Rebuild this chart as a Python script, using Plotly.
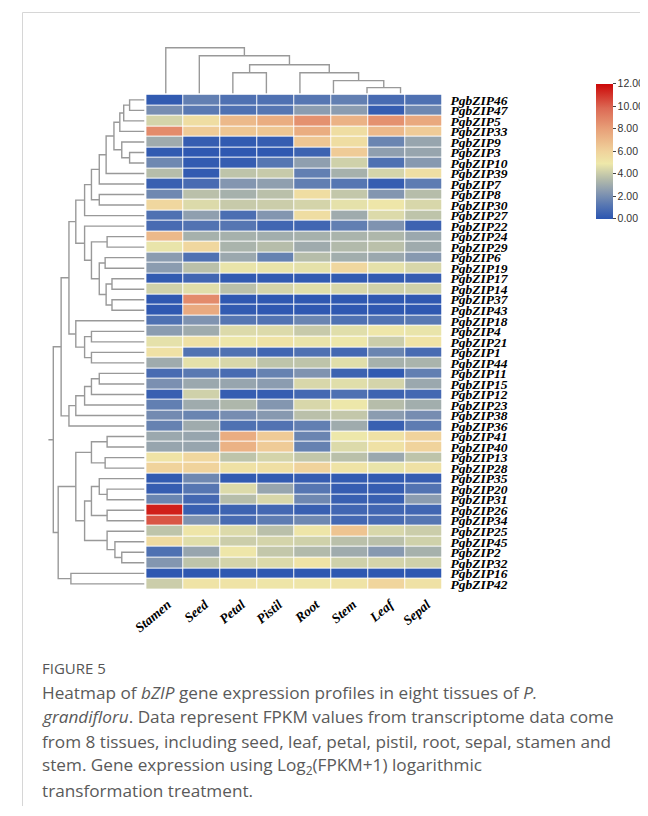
import plotly.graph_objects as go

# The page body has an 8px margin, so the figure is drawn 8px right/down.
OFF = 8
W, H = 648 - OFF, 816 - OFF

def fx(x):
    return (x - OFF) / W

def fy(y):
    return 1 - (y - OFF) / H

# ---------------- data ----------------
genes = ["PgbZIP46", "PgbZIP47", "PgbZIP5", "PgbZIP33", "PgbZIP9", "PgbZIP3", "PgbZIP10", "PgbZIP39",
         "PgbZIP7", "PgbZIP8", "PgbZIP30", "PgbZIP27", "PgbZIP22", "PgbZIP24", "PgbZIP29", "PgbZIP6",
         "PgbZIP19", "PgbZIP17", "PgbZIP14", "PgbZIP37", "PgbZIP43", "PgbZIP18", "PgbZIP4", "PgbZIP21",
         "PgbZIP1", "PgbZIP44", "PgbZIP11", "PgbZIP15", "PgbZIP12", "PgbZIP23", "PgbZIP38", "PgbZIP36",
         "PgbZIP41", "PgbZIP40", "PgbZIP13", "PgbZIP28", "PgbZIP35", "PgbZIP20", "PgbZIP31", "PgbZIP26",
         "PgbZIP34", "PgbZIP25", "PgbZIP45", "PgbZIP2", "PgbZIP32", "PgbZIP16", "PgbZIP42"]

tissues = ["Stamen", "Seed", "Petal", "Pistil", "Root", "Stem", "Leaf", "Sepal"]

stamen = [0.2, 2.0, 4.3, 8.7, 3.0, 0.2, 1.8, 3.6, 0.4, 1.8, 5.8, 1.0, 0.8, 7.0, 4.8, 2.5,
          2.5, 0.2, 4.2, 0.1, 0.1, 1.0, 2.5, 4.7, 5.3, 3.0, 0.8, 2.1, 0.4, 1.5, 1.9, 1.6,
          2.9, 2.8, 5.2, 6.0, 0.2, 0.3, 1.7, 11.5, 10.3, 3.8, 5.6, 1.0, 2.3, 0.1, 4.1]
seed = [1.5, 1.3, 5.5, 6.3, 0.3, 0.1, 0.2, 0.2, 0.8, 3.7, 4.5, 2.6, 1.1, 3.2, 5.8, 1.0,
        3.7, 0.6, 4.6, 8.7, 7.6, 2.2, 3.0, 5.3, 1.1, 4.7, 1.3, 2.9, 4.2, 3.0, 1.7, 3.0,
        2.8, 2.8, 5.8, 6.0, 1.8, 1.2, 0.7, 0.4, 2.2, 5.1, 4.6, 2.8, 3.8, 0.1, 5.2]
petal = [1.0, 1.0, 7.0, 6.5, 0.2, 0.1, 0.3, 3.8, 2.3, 3.2, 4.0, 0.9, 1.2, 3.2, 3.3, 2.9,
         4.8, 0.2, 3.7, 0.1, 0.2, 1.2, 4.5, 4.9, 1.0, 4.4, 0.8, 2.8, 0.3, 3.4, 2.0, 1.0,
         7.5, 7.3, 3.8, 5.3, 0.2, 4.5, 3.6, 0.5, 0.8, 4.5, 4.1, 5.0, 4.3, 0.1, 5.2]
pistil = [1.0, 1.2, 7.5, 6.5, 0.3, 0.1, 1.2, 4.0, 2.6, 3.7, 4.1, 2.3, 0.6, 3.1, 3.6, 1.6,
          4.8, 0.2, 4.3, 0.1, 0.1, 1.1, 4.5, 5.2, 0.6, 3.8, 1.6, 2.5, 0.3, 2.3, 2.4, 1.1,
          6.3, 6.3, 4.3, 5.4, 0.2, 2.8, 4.4, 0.7, 1.4, 3.7, 4.3, 3.9, 4.5, 0.1, 5.1]
root = [1.2, 2.5, 8.5, 7.5, 6.5, 0.5, 2.6, 1.5, 1.5, 5.5, 4.3, 5.5, 0.6, 3.2, 3.0, 3.6,
        4.7, 0.2, 4.6, 0.1, 0.1, 1.7, 4.0, 4.8, 1.0, 3.8, 2.2, 4.4, 0.7, 4.4, 3.7, 1.5,
        1.7, 1.6, 3.9, 6.0, 0.3, 1.2, 1.8, 0.4, 1.8, 5.1, 4.2, 3.5, 5.2, 0.1, 5.1]
stem = [1.5, 2.5, 7.3, 5.5, 5.5, 6.3, 4.2, 3.2, 1.2, 3.9, 4.7, 3.0, 1.5, 3.3, 3.5, 3.1,
        5.8, 0.2, 4.4, 0.1, 0.1, 1.0, 4.6, 4.9, 0.7, 4.6, 0.5, 4.6, 1.0, 4.9, 3.9, 3.0,
        4.9, 4.5, 3.7, 5.2, 0.2, 0.3, 0.4, 0.6, 0.7, 6.6, 3.7, 3.0, 4.2, 0.1, 5.2]
leaf = [0.8, 0.3, 8.5, 7.0, 1.7, 2.6, 1.0, 4.3, 0.3, 2.3, 5.0, 4.5, 2.2, 3.4, 3.7, 2.9,
        4.7, 0.2, 4.2, 0.1, 0.1, 1.1, 5.0, 4.1, 1.7, 3.2, 0.2, 4.3, 0.5, 3.6, 2.5, 0.4,
        5.3, 5.3, 2.9, 4.8, 0.2, 0.3, 0.4, 0.6, 0.8, 4.4, 3.7, 2.4, 4.3, 0.1, 5.9]
sepal = [1.0, 1.8, 7.7, 6.3, 2.8, 2.8, 2.4, 5.4, 1.4, 3.6, 4.4, 3.8, 0.5, 2.9, 3.0, 2.4,
         4.4, 0.3, 4.2, 0.1, 0.1, 1.3, 4.8, 5.2, 0.8, 3.3, 1.5, 2.9, 0.7, 3.1, 2.0, 1.4,
         6.0, 6.0, 3.8, 5.3, 0.3, 1.1, 2.5, 0.6, 1.2, 4.1, 4.2, 3.2, 4.2, 0.1, 5.3]

colorbar_ticks = [0, 2, 4, 6, 8, 10, 12]

# hierarchical clustering (merge: left, right, distance)
row_merges = [
    ("PgbZIP46", "PgbZIP47", 15), (0, "PgbZIP5", 21), (1, "PgbZIP33", 25),
    ("PgbZIP3", "PgbZIP10", 15), ("PgbZIP9", 3, 23), (2, 4, 31), (5, "PgbZIP39", 39),
    (6, "PgbZIP7", 46), ("PgbZIP8", "PgbZIP30", 46), (7, 8, 54), (9, "PgbZIP27", 61),
    ("PgbZIP24", "PgbZIP29", 38), ("PgbZIP6", "PgbZIP19", 40), ("PgbZIP17", "PgbZIP14", 33),
    ("PgbZIP37", "PgbZIP43", 33), (13, 14, 39), (12, 15, 46), (11, 16, 54),
    ("PgbZIP22", 17, 61), (10, 18, 70), ("PgbZIP4", "PgbZIP21", 54), ("PgbZIP1", "PgbZIP44", 54),
    (20, 21, 61), ("PgbZIP18", 22, 70), (19, 23, 77), ("PgbZIP11", "PgbZIP15", 46),
    (25, "PgbZIP12", 54), (26, "PgbZIP23", 61), (27, "PgbZIP38", 70), (28, "PgbZIP36", 77),
    (24, 29, 85), ("PgbZIP41", "PgbZIP40", 38), ("PgbZIP13", "PgbZIP28", 40), (31, 32, 54),
    ("PgbZIP20", "PgbZIP31", 38), ("PgbZIP35", 34, 46), ("PgbZIP26", "PgbZIP34", 38),
    (35, 36, 54), ("PgbZIP2", "PgbZIP32", 23), ("PgbZIP45", 38, 30), ("PgbZIP25", 39, 38),
    (37, 40, 61), (33, 41, 70), ("PgbZIP16", "PgbZIP42", 75), (42, 43, 88), (30, 44, 93),
]
col_merges = [
    ("Leaf", "Sepal", 6), ("Stem", 0, 13), ("Root", 1, 21), ("Petal", "Pistil", 21),
    (3, 2, 29), ("Seed", 4, 38), ("Stamen", 5, 46),
]

# ---------------- helpers ----------------
def dendro(merges, leaf_pos):
    pos, hgt = {}, {}
    a_s, h_s = [], []

    def node(k):
        if isinstance(k, str):
            return leaf_pos[k], 0.0
        return pos[k], hgt[k]

    for i, (a, b, h) in enumerate(merges):
        pa, ha = node(a)
        pb, hb = node(b)
        a_s += [pa, pa, pb, pb, None]
        h_s += [ha, h, h, hb, None]
        pos[i] = (pa + pb) / 2
        hgt[i] = h
    last = len(merges) - 1
    return a_s, h_s, pos[last], hgt[last]


z = [[stamen[i], seed[i], petal[i], pistil[i], root[i], stem[i], leaf[i], sepal[i]]
     for i in range(len(genes))]

colorscale = [
    [0.00, "#2b55b1"],
    [0.10, "#5676b2"],
    [0.20, "#8799b0"],
    [0.30, "#b6bdaa"],
    [0.41, "#eee8aa"],
    [0.50, "#f0d39c"],
    [0.66, "#e8a27a"],
    [0.82, "#dc6a55"],
    [1.00, "#cc0808"],
]

HL, HR, HT, HB = 135, 438, 93, 590

fig = go.Figure()

fig.add_trace(go.Heatmap(
    z=z, x=list(range(len(tissues))), y=list(range(len(genes))),
    colorscale=colorscale, zmin=0, zmax=12, xgap=1, ygap=1,
    hoverinfo="skip",
    colorbar=dict(
        thickness=17, thicknessmode="pixels", len=135, lenmode="pixels",
        x=fx(595), xanchor="left", y=fy(82), yanchor="top", xpad=0, ypad=0,
        tickvals=colorbar_ticks, ticktext=["%.2f" % v for v in colorbar_ticks],
        ticks="outside", ticklen=3, tickcolor="#444", tickwidth=1,
        tickfont=dict(family="Liberation Sans", size=10.5, color="#333"),
        outlinewidth=0,
    ),
))

# row dendrogram
row_leaf = {g: i for i, g in enumerate(genes)}
ra, rh, rroot, rrooth = dendro(row_merges, row_leaf)
ra += [rroot, rroot]
rh += [rrooth, rrooth + 5]
fig.add_trace(go.Scatter(x=rh, y=ra, mode="lines", xaxis="x3", yaxis="y3",
                         line=dict(color="#999999", width=1.4), hoverinfo="skip",
                         showlegend=False))

# column dendrogram
col_leaf = {t: i for i, t in enumerate(tissues)}
ca, ch, _, _ = dendro(col_merges, col_leaf)
fig.add_trace(go.Scatter(x=ca, y=ch, mode="lines", xaxis="x2", yaxis="y2",
                         line=dict(color="#999999", width=1.4), hoverinfo="skip",
                         showlegend=False))

# column dendrogram x-range: leaves 0..7 at px 155..395 across heatmap domain
leaf0_px, leaf7_px = 155, 395
span = (len(tissues) - 1) * (HR - HL) / (leaf7_px - leaf0_px)
r0 = -(leaf0_px - HL) / (HR - HL) * span
r1 = r0 + span

# slanted tissue labels end slightly right of each cell centre
label_shift = 0.08

serif = "Liberation Serif"
fig.update_layout(
    width=W, height=H, margin=dict(l=0, r=0, t=0, b=0),
    paper_bgcolor="white", plot_bgcolor="white", showlegend=False,
    xaxis=dict(domain=[fx(HL), fx(HR)], range=[-0.5, 7.5],
               tickvals=[i + label_shift for i in range(len(tissues))],
               ticktext=["<b><i>%s</i></b>" % t for t in tissues], tickangle=-40,
               ticks="", showgrid=False, zeroline=False, showline=False,
               tickfont=dict(family=serif, size=13.5, color="black"), ticklabelstandoff=4),
    yaxis=dict(domain=[fy(HB), fy(HT)], range=[len(genes) - 0.5, -0.5],
               tickvals=list(range(len(genes))),
               ticktext=["<b><i>%s</i></b>" % g for g in genes], side="right",
               ticks="", showgrid=False, zeroline=False, showline=False,
               tickfont=dict(family=serif, size=13.5, color="black"), ticklabelstandoff=7),
    xaxis2=dict(domain=[fx(HL), fx(HR)], range=[r0, r1], visible=False, anchor="y2"),
    yaxis2=dict(domain=[fy(92), fy(36)], range=[0, 56], visible=False, anchor="x2"),
    xaxis3=dict(domain=[fx(30), fx(HL)], range=[103, -2], visible=False, anchor="y3"),
    yaxis3=dict(domain=[fy(HB), fy(HT)], range=[len(genes) - 0.5, -0.5], visible=False,
                anchor="x3"),
)

# frame lines
fig.add_shape(type="line", xref="paper", yref="paper", x0=fx(8.5), x1=1.0,
              y0=fy(10.5), y1=fy(10.5), line=dict(color="#d6d6d6", width=1))
fig.add_shape(type="line", xref="paper", yref="paper", x0=fx(8.5), x1=fx(8.5),
              y0=fy(10.5), y1=fy(808), line=dict(color="#d6d6d6", width=1))

# caption
cap_font = dict(family="Open Sans", size=17.2, color="#5a5a5a")
fig.add_annotation(xref="paper", yref="paper", x=fx(26), y=fy(669), xanchor="left",
                   yanchor="middle", showarrow=False, text="FIGURE 5",
                   font=dict(family="Open Sans", size=15, color="#555555"))
caption_lines = [
    "Heatmap of <i>bZIP</i> gene expression profiles in eight tissues of <i>P.</i>",
    "<i>grandifloru</i>. Data represent FPKM values from transcriptome data come",
    "from 8 tissues, including seed, leaf, petal, pistil, root, sepal, stamen and",
    "stem. Gene expression using Log<sub>2</sub>(FPKM+1) logarithmic",
    "transformation treatment.",
]
for k, line in enumerate(caption_lines):
    fig.add_annotation(xref="paper", yref="paper", x=fx(26), y=fy(694 + 24.5 * k),
                       xanchor="left", yanchor="middle", showarrow=False, text=line,
                       font=cap_font)

fig.write_html("out.html")
